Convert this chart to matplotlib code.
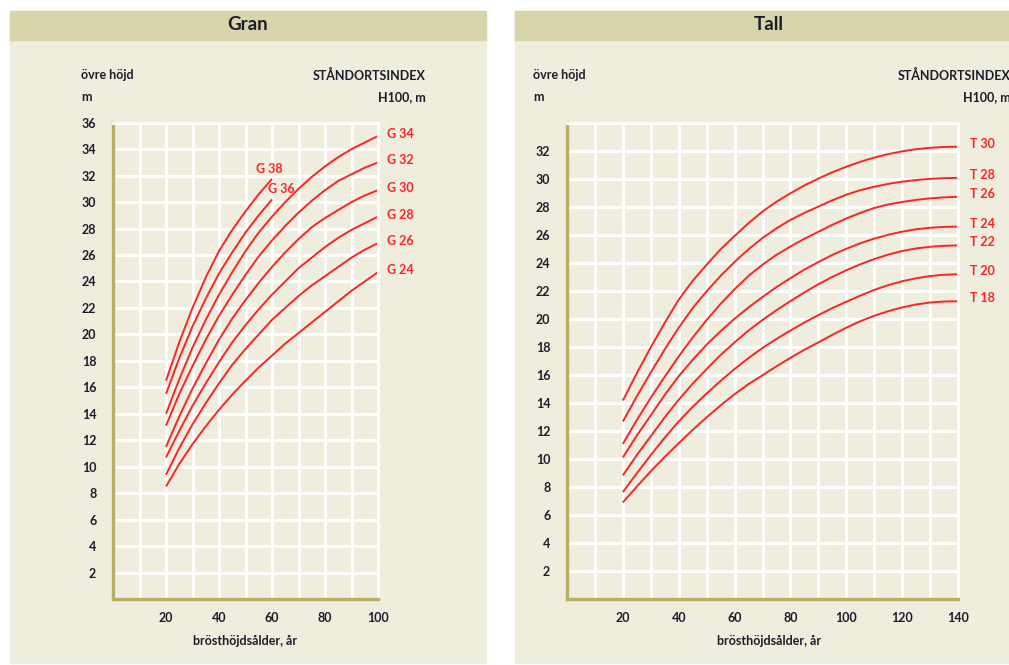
import matplotlib
matplotlib.use("Agg")
import matplotlib.pyplot as plt
from matplotlib.patches import Rectangle
from matplotlib.ticker import MultipleLocator, FixedLocator
import numpy as np

# Gran (spruce) site index curves, upper height vs breast-height age
gran_age = [20, 25, 30, 35, 40, 45, 50, 55, 60, 65, 70, 75, 80, 85, 90, 95, 100]
g34 = [14.0, 16.6, 19.0, 21.1, 23.0, 24.7, 26.3, 27.7, 28.9, 30.0, 31.0, 31.9, 32.7, 33.4, 34.0, 34.5, 35.0]
g32 = [13.1, 15.5, 17.6, 19.6, 21.4, 23.0, 24.5, 25.9, 27.1, 28.2, 29.2, 30.1, 30.9, 31.6, 32.1, 32.6, 33.0]
g30 = [11.5, 13.8, 15.9, 17.8, 19.6, 21.2, 22.6, 23.9, 25.1, 26.2, 27.2, 28.1, 28.8, 29.4, 30.0, 30.5, 30.9]
g28 = [10.7, 12.7, 14.6, 16.3, 17.9, 19.4, 20.7, 21.9, 23.0, 24.0, 25.0, 25.8, 26.6, 27.3, 27.9, 28.4, 28.9]
g26 = [9.4, 11.4, 13.2, 14.8, 16.3, 17.7, 18.9, 20.0, 21.1, 22.0, 22.9, 23.7, 24.4, 25.1, 25.8, 26.4, 26.9]
g24 = [8.5, 10.2, 11.7, 13.05, 14.3, 15.45, 16.5, 17.5, 18.4, 19.3, 20.1, 20.9, 21.7, 22.5, 23.3, 24.0, 24.7]
gran_age_short = [20, 25, 30, 35, 40, 45, 50, 55, 60]
g38 = [16.5, 19.4, 22.0, 24.3, 26.3, 27.9, 29.3, 30.6, 31.75]
g36 = [15.5, 18.2, 20.6, 22.7, 24.6, 26.2, 27.7, 29.0, 30.2]

# Tall (pine) site index curves
tall_age = list(range(20, 141, 5))
t30 = [14.2, 16.15, 18.0, 19.75, 21.4, 22.75, 23.9, 25.0, 25.95, 26.87, 27.7, 28.4, 29.0,
       29.56, 30.05, 30.5, 30.9, 31.25, 31.55, 31.8, 32.0, 32.15, 32.25, 32.31, 32.33]
t28 = [12.7, 14.5, 16.2, 17.85, 19.4, 20.8, 22.0, 23.1, 24.1, 25.0, 25.8, 26.5, 27.1,
       27.6, 28.05, 28.5, 28.9, 29.22, 29.47, 29.67, 29.83, 29.95, 30.03, 30.08, 30.1]
t26 = [11.1, 12.8, 14.4, 15.9, 17.35, 18.7, 19.95, 21.1, 22.15, 23.1, 23.9, 24.6, 25.2,
       25.75, 26.25, 26.75, 27.2, 27.6, 27.95, 28.2, 28.38, 28.53, 28.64, 28.71, 28.75]
t24 = [10.14, 11.7, 13.14, 14.6, 15.94, 17.1, 18.19, 19.15, 20.04, 20.85, 21.59, 22.3, 22.94,
       23.55, 24.09, 24.6, 25.04, 25.43, 25.76, 26.04, 26.26, 26.43, 26.54, 26.6, 26.62]
t22 = [8.85, 10.3, 11.65, 13.0, 14.25, 15.4, 16.45, 17.45, 18.35, 19.2, 19.95, 20.65, 21.3,
       21.92, 22.5, 23.03, 23.5, 23.93, 24.3, 24.62, 24.88, 25.06, 25.18, 25.25, 25.28]
t20 = [7.66, 9.0, 10.3, 11.55, 12.7, 13.75, 14.7, 15.6, 16.45, 17.23, 17.95, 18.6, 19.2,
       19.77, 20.3, 20.8, 21.25, 21.69, 22.1, 22.44, 22.72, 22.93, 23.09, 23.18, 23.22]
t18 = [6.92, 8.05, 9.15, 10.17, 11.15, 12.1, 13.0, 13.85, 14.65, 15.37, 16.0, 16.64, 17.25,
       17.82, 18.35, 18.89, 19.4, 19.86, 20.25, 20.58, 20.85, 21.06, 21.2, 21.27, 21.29]

W, H = 1009, 665
BG = "#efedde"
BAND = "#d8d5aa"
OLIVE = "#b5b064"
RED = "#ff2323"
INK = "#1c1c2c"

plt.rcParams["font.family"] = ["Lato", "DejaVu Sans"]
plt.rcParams["font.weight"] = "bold"

fig = plt.figure(figsize=(W / 100, H / 100), dpi=100, facecolor="white")


def box(x0, y0, x1, y1, color):
    fig.patches.append(Rectangle((x0 / W, 1 - y1 / H), (x1 - x0) / W, (y1 - y0) / H,
                                 transform=fig.transFigure, color=color, zorder=-10))


def txt(x, y, s, **kw):
    fig.text(x / W, 1 - y / H, s, color=kw.pop("color", INK), fontweight="bold",
             va="center", **kw)


# panel backgrounds and title bands
box(10, 11, 486, 663, BG)
box(10, 11, 486, 40, BAND)
box(515, 11, 1009, 663, BG)
box(515, 11, 1009, 40, BAND)

txt(248, 25, "Gran", ha="center", fontsize=13.5)
txt(769, 24, "Tall", ha="center", fontsize=13.5)


def setup(ax, xmax, ymax, ytop):
    ax.set_facecolor(BG)
    ax.set_xlim(0, xmax)
    ax.set_ylim(0, ymax)
    ax.xaxis.set_major_locator(FixedLocator(np.arange(20, xmax + 1, 20)))
    ax.yaxis.set_major_locator(FixedLocator(np.arange(2, ytop + 1, 2)))
    ax.xaxis.set_minor_locator(MultipleLocator(10))
    ax.yaxis.set_minor_locator(MultipleLocator(2))
    ax.grid(which="both", color="white", linewidth=2.1)
    ax.set_axisbelow(True)
    ax.tick_params(which="both", length=0, labelsize=9, labelcolor=INK)
    ax.tick_params(axis="y", pad=12)
    ax.tick_params(axis="x", pad=9)
    for side in ("left", "bottom"):
        ax.spines[side].set_color(OLIVE)
        ax.spines[side].set_linewidth(2.4)
    for side in ("top", "right"):
        ax.spines[side].set_color("white")
        ax.spines[side].set_linewidth(2.1)


ax1 = fig.add_axes([113 / W, 1 - 599 / H, 265 / W, 476.3 / H])
setup(ax1, 100, 36, 36)
for vals, name in [(g34, "G 34"), (g32, "G 32"), (g30, "G 30"),
                   (g28, "G 28"), (g26, "G 26"), (g24, "G 24")]:
    ax1.plot(gran_age, vals, color=RED, lw=1.4, solid_capstyle="butt")
    ax1.annotate(name, (gran_age[-1], vals[-1]), xytext=(9, 2), textcoords="offset pixels",
                 color=RED, fontsize=9, fontweight="bold", va="center", annotation_clip=False)
for vals, name, dx, dy in [(g38, "G 38", -3, 10), (g36, "G 36", 9, 10)]:
    ax1.plot(gran_age_short, vals, color=RED, lw=1.4, solid_capstyle="butt")
    ax1.annotate(name, (gran_age_short[-1], vals[-1]), xytext=(dx, dy), textcoords="offset pixels",
                 color=RED, fontsize=9, fontweight="bold", ha="center", va="center")

ax2 = fig.add_axes([567 / W, 1 - 599.3 / H, 391 / W, 476 / H])
setup(ax2, 140, 34, 32)
for vals, name in [(t30, "T 30"), (t28, "T 28"), (t26, "T 26"), (t24, "T 24"),
                   (t22, "T 22"), (t20, "T 20"), (t18, "T 18")]:
    ax2.plot(tall_age, vals, color=RED, lw=1.4, solid_capstyle="butt")
    ax2.annotate(name, (tall_age[-1], vals[-1]), xytext=(12, 3), textcoords="offset pixels",
                 color=RED, fontsize=9, fontweight="bold", va="center", annotation_clip=False)

# axis captions
txt(81, 75, "övre höjd", ha="left", fontsize=9)
txt(81, 97, "m", ha="left", fontsize=9)
txt(426, 75, "STÅNDORTSINDEX", ha="right", fontsize=9)
txt(426, 97, "H100, m", ha="right", fontsize=9)
txt(245, 641, "brösthöjdsålder, år", ha="center", fontsize=9)

txt(533, 75, "övre höjd", ha="left", fontsize=9)
txt(533, 97, "m", ha="left", fontsize=9)
txt(1011, 75, "STÅNDORTSINDEX", ha="right", fontsize=9)
txt(1011, 97, "H100, m", ha="right", fontsize=9)
txt(769, 641, "brösthöjdsålder, år", ha="center", fontsize=9)

fig.savefig("out.png", dpi=100, facecolor="white")
